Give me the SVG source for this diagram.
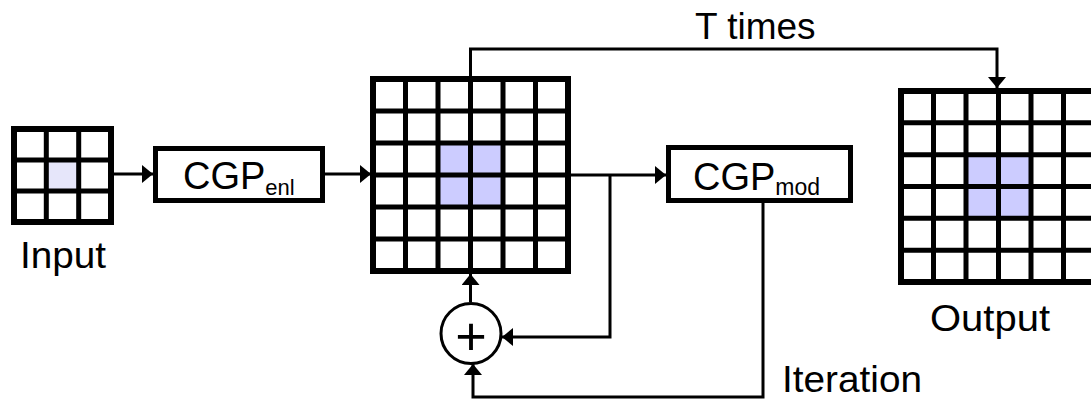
<svg xmlns="http://www.w3.org/2000/svg" width="1091" height="403" viewBox="0 0 1091 403">
<defs>
<style>
.bg{fill:#fff}
.hl{fill:#ccccff}
.hl2{fill:#e6e6fa}
.gl{fill:none;stroke:#000;stroke-width:5}
.bd{fill:none;stroke:#000;stroke-width:6}
.box{fill:#fff;stroke:#000;stroke-width:5}
.conn{fill:none;stroke:#000;stroke-width:3}
.lbl{font-family:"Liberation Sans",Arial,Helvetica,sans-serif;fill:#000;font-size:37px}
</style>
<marker id="arr" viewBox="0 0 11 18" refX="11" refY="9" markerWidth="11" markerHeight="18" markerUnits="userSpaceOnUse" orient="auto"><path d="M0,0 L11,9 L0,18 z" fill="#000"/></marker>
</defs>
<rect width="1091" height="403" fill="#fff"/>

<g id="connectors">
<path class="conn" d="M114,174 H153" marker-end="url(#arr)"/>
<path class="conn" d="M325,174 H371" marker-end="url(#arr)"/>
<path class="conn" d="M571,175 H666" marker-end="url(#arr)"/>
<path class="conn" d="M610,175 V337 H502" marker-end="url(#arr)"/>
<path class="conn" d="M470.5,302 V274" marker-end="url(#arr)"/>
<path class="conn" d="M763,203 V397 H473 V364" marker-end="url(#arr)"/>
<path class="conn" d="M470.5,79 V49 H997 V88" marker-end="url(#arr)"/>
</g>

<g id="input">
<rect class="bg" x="14" y="129" width="97" height="93"/>
<rect class="hl2" x="46.3" y="160" width="32.4" height="31"/>
<path class="gl" d="M46.3,129 V222 M78.7,129 V222 M14,160 H111 M14,191 H111"/>
<rect class="bd" x="14" y="129" width="97" height="93"/>
<text class="lbl" x="20" y="268" textLength="86" lengthAdjust="spacingAndGlyphs">Input</text>
</g>

<g id="cgp_enl">
<rect class="box" x="155.5" y="148.5" width="167" height="52"/>
<text class="lbl" x="183" y="189" style="font-size:38px">CGP<tspan style="font-size:22px" dy="6">enl</tspan></text>
</g>

<g id="feature_grid">
<rect class="bg" x="373" y="79" width="195" height="192"/>
<rect class="hl" x="438" y="143" width="65" height="64"/>
<path class="gl" d="M405.5,79 V271 M438,79 V271 M470.5,79 V271 M503,79 V271 M535.5,79 V271 M373,111 H568 M373,143 H568 M373,175 H568 M373,207 H568 M373,239 H568"/>
<rect class="bd" x="373" y="79" width="195" height="192"/>
</g>

<g id="cgp_mod">
<rect class="box" x="668.5" y="147.5" width="182" height="53"/>
<text class="lbl" x="693" y="190" style="font-size:38px">CGP<tspan style="font-size:23px" dy="5">mod</tspan></text>
</g>

<g id="sum">
<circle cx="471" cy="333.5" r="30" fill="#fff" stroke="#000" stroke-width="3"/>
<text class="lbl" x="471" y="355" text-anchor="middle" style="font-size:54px">+</text>
</g>

<g id="output">
<rect class="bg" x="901" y="91" width="195" height="191"/>
<rect class="hl" x="966" y="154.7" width="65" height="63.6"/>
<path class="gl" d="M933.5,91 V282 M966,91 V282 M998.5,91 V282 M1031,91 V282 M1063.5,91 V282 M901,122.8 H1096 M901,154.7 H1096 M901,186.5 H1096 M901,218.3 H1096 M901,250.2 H1096"/>
<rect class="bd" x="901" y="91" width="195" height="191"/>
<text class="lbl" x="930" y="331" textLength="120" lengthAdjust="spacingAndGlyphs">Output</text>
</g>

<g id="labels">
<text class="lbl" x="695" y="39">T times</text>
<text class="lbl" x="782" y="392" textLength="140" lengthAdjust="spacingAndGlyphs">Iteration</text>
</g>
</svg>
